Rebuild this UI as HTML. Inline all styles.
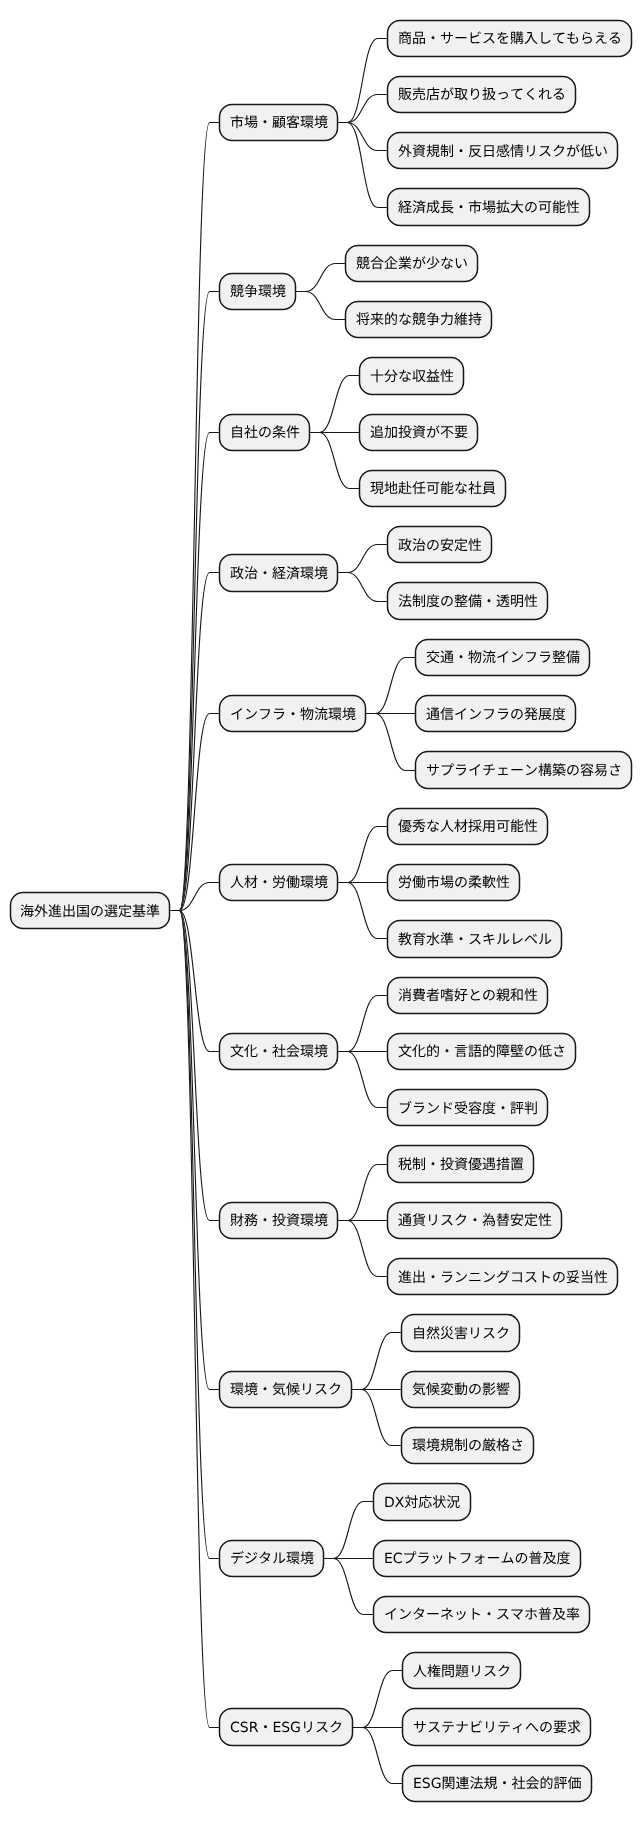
<!DOCTYPE html>
<html lang="ja"><head><meta charset="utf-8"><title>海外進出国の選定基準</title>
<style>
html,body{margin:0;padding:0;background:#fff;overflow:hidden;}
svg{display:block;will-change:transform;}
svg text{font-family:"DejaVu Sans", "Liberation Sans", "Noto Sans CJK JP", sans-serif;font-size:14px;fill:#000;font-kerning:none;font-feature-settings:"kern" 0,"palt" 0;white-space:pre;text-rendering:geometricPrecision;}
</style></head><body>
<svg width="642" height="1822" viewBox="0 0 642 1822">
<rect x="0" y="0" width="642" height="1822" fill="#fff"/>
<g fill="none" stroke="#181818" stroke-width="1.12">
<path d="M169.5,910.5 L179.5,910.5 C194.50,910.50 194.50,122.50 209.5,122.5 L219.5,122.5"/>
<path d="M337.5,122.5 L347.5,122.5 C362.50,122.50 362.50,38.50 377.5,38.5 L387.5,38.5"/>
<path d="M337.5,122.5 L347.5,122.5 C362.50,122.50 362.50,94.50 377.5,94.5 L387.5,94.5"/>
<path d="M337.5,122.5 L347.5,122.5 C362.50,122.50 362.50,150.50 377.5,150.5 L387.5,150.5"/>
<path d="M337.5,122.5 L347.5,122.5 C362.50,122.50 362.50,207.50 377.5,207.5 L387.5,207.5"/>
<path d="M169.5,910.5 L179.5,910.5 C194.50,910.50 194.50,291.50 209.5,291.5 L219.5,291.5"/>
<path d="M295.5,291.5 L305.5,291.5 C320.50,291.50 320.50,263.50 335.5,263.5 L345.5,263.5"/>
<path d="M295.5,291.5 L305.5,291.5 C320.50,291.50 320.50,319.50 335.5,319.5 L345.5,319.5"/>
<path d="M169.5,910.5 L179.5,910.5 C194.50,910.50 194.50,432.50 209.5,432.5 L219.5,432.5"/>
<path d="M309.5,432.5 L319.5,432.5 C334.50,432.50 334.50,375.50 349.5,375.5 L359.5,375.5"/>
<path d="M309.5,432.5 L319.5,432.5 C334.50,432.50 334.50,432.50 349.5,432.5 L359.5,432.5"/>
<path d="M309.5,432.5 L319.5,432.5 C334.50,432.50 334.50,488.50 349.5,488.5 L359.5,488.5"/>
<path d="M169.5,910.5 L179.5,910.5 C194.50,910.50 194.50,572.50 209.5,572.5 L219.5,572.5"/>
<path d="M337.5,572.5 L347.5,572.5 C362.50,572.50 362.50,544.50 377.5,544.5 L387.5,544.5"/>
<path d="M337.5,572.5 L347.5,572.5 C362.50,572.50 362.50,601.50 377.5,601.5 L387.5,601.5"/>
<path d="M169.5,910.5 L179.5,910.5 C194.50,910.50 194.50,713.50 209.5,713.5 L219.5,713.5"/>
<path d="M365.5,713.5 L375.5,713.5 C390.50,713.50 390.50,657.50 405.5,657.5 L415.5,657.5"/>
<path d="M365.5,713.5 L375.5,713.5 C390.50,713.50 390.50,713.50 405.5,713.5 L415.5,713.5"/>
<path d="M365.5,713.5 L375.5,713.5 C390.50,713.50 390.50,770.50 405.5,770.5 L415.5,770.5"/>
<path d="M169.5,910.5 L179.5,910.5 C194.50,910.50 194.50,882.50 209.5,882.5 L219.5,882.5"/>
<path d="M337.5,882.5 L347.5,882.5 C362.50,882.50 362.50,826.50 377.5,826.5 L387.5,826.5"/>
<path d="M337.5,882.5 L347.5,882.5 C362.50,882.50 362.50,882.50 377.5,882.5 L387.5,882.5"/>
<path d="M337.5,882.5 L347.5,882.5 C362.50,882.50 362.50,938.50 377.5,938.5 L387.5,938.5"/>
<path d="M169.5,910.5 L179.5,910.5 C194.50,910.50 194.50,1051.50 209.5,1051.5 L219.5,1051.5"/>
<path d="M337.5,1051.5 L347.5,1051.5 C362.50,1051.50 362.50,995.50 377.5,995.5 L387.5,995.5"/>
<path d="M337.5,1051.5 L347.5,1051.5 C362.50,1051.50 362.50,1051.50 377.5,1051.5 L387.5,1051.5"/>
<path d="M337.5,1051.5 L347.5,1051.5 C362.50,1051.50 362.50,1107.50 377.5,1107.5 L387.5,1107.5"/>
<path d="M169.5,910.5 L179.5,910.5 C194.50,910.50 194.50,1220.50 209.5,1220.5 L219.5,1220.5"/>
<path d="M337.5,1220.5 L347.5,1220.5 C362.50,1220.50 362.50,1164.50 377.5,1164.5 L387.5,1164.5"/>
<path d="M337.5,1220.5 L347.5,1220.5 C362.50,1220.50 362.50,1220.50 377.5,1220.5 L387.5,1220.5"/>
<path d="M337.5,1220.5 L347.5,1220.5 C362.50,1220.50 362.50,1276.50 377.5,1276.5 L387.5,1276.5"/>
<path d="M169.5,910.5 L179.5,910.5 C194.50,910.50 194.50,1389.50 209.5,1389.5 L219.5,1389.5"/>
<path d="M351.5,1389.5 L361.5,1389.5 C376.50,1389.50 376.50,1332.50 391.5,1332.5 L401.5,1332.5"/>
<path d="M351.5,1389.5 L361.5,1389.5 C376.50,1389.50 376.50,1389.50 391.5,1389.5 L401.5,1389.5"/>
<path d="M351.5,1389.5 L361.5,1389.5 C376.50,1389.50 376.50,1445.50 391.5,1445.5 L401.5,1445.5"/>
<path d="M169.5,910.5 L179.5,910.5 C194.50,910.50 194.50,1558.50 209.5,1558.5 L219.5,1558.5"/>
<path d="M323.5,1558.5 L333.5,1558.5 C348.50,1558.50 348.50,1501.50 363.5,1501.5 L373.5,1501.5"/>
<path d="M323.5,1558.5 L333.5,1558.5 C348.50,1558.50 348.50,1558.50 363.5,1558.5 L373.5,1558.5"/>
<path d="M323.5,1558.5 L333.5,1558.5 C348.50,1558.50 348.50,1614.50 363.5,1614.5 L373.5,1614.5"/>
<path d="M169.5,910.5 L179.5,910.5 C194.50,910.50 194.50,1727.50 209.5,1727.5 L219.5,1727.5"/>
<path d="M352.5,1727.5 L362.5,1727.5 C377.50,1727.50 377.50,1670.50 392.5,1670.5 L402.5,1670.5"/>
<path d="M352.5,1727.5 L362.5,1727.5 C377.50,1727.50 377.50,1727.50 392.5,1727.5 L402.5,1727.5"/>
<path d="M352.5,1727.5 L362.5,1727.5 C377.50,1727.50 377.50,1783.50 392.5,1783.5 L402.5,1783.5"/>
</g>
<g fill="#F1F1F1" stroke="#181818" stroke-width="1.5">
<rect x="10.5" y="892.5" width="159" height="36" rx="12.5"/>
<rect x="219.5" y="104.5" width="118" height="36" rx="12.5"/>
<rect x="387.5" y="20.5" width="244" height="36" rx="12.5"/>
<rect x="387.5" y="76.5" width="188" height="36" rx="12.5"/>
<rect x="387.5" y="132.5" width="230" height="36" rx="12.5"/>
<rect x="387.5" y="188.5" width="202" height="37" rx="12.5"/>
<rect x="219.5" y="273.5" width="76" height="36" rx="12.5"/>
<rect x="345.5" y="245.5" width="132" height="36" rx="12.5"/>
<rect x="345.5" y="301.5" width="146" height="36" rx="12.5"/>
<rect x="219.5" y="414.5" width="90" height="36" rx="12.5"/>
<rect x="359.5" y="357.5" width="104" height="37" rx="12.5"/>
<rect x="359.5" y="414.5" width="118" height="36" rx="12.5"/>
<rect x="359.5" y="470.5" width="146" height="36" rx="12.5"/>
<rect x="219.5" y="554.5" width="118" height="37" rx="12.5"/>
<rect x="387.5" y="526.5" width="104" height="36" rx="12.5"/>
<rect x="387.5" y="582.5" width="160" height="37" rx="12.5"/>
<rect x="219.5" y="695.5" width="146" height="36" rx="12.5"/>
<rect x="415.5" y="639.5" width="174" height="36" rx="12.5"/>
<rect x="415.5" y="695.5" width="160" height="36" rx="12.5"/>
<rect x="415.5" y="751.5" width="216" height="37" rx="12.5"/>
<rect x="219.5" y="864.5" width="118" height="36" rx="12.5"/>
<rect x="387.5" y="808.5" width="160" height="36" rx="12.5"/>
<rect x="387.5" y="864.5" width="132" height="36" rx="12.5"/>
<rect x="387.5" y="920.5" width="174" height="37" rx="12.5"/>
<rect x="219.5" y="1033.5" width="118" height="36" rx="12.5"/>
<rect x="387.5" y="977.5" width="160" height="36" rx="12.5"/>
<rect x="387.5" y="1033.5" width="188" height="36" rx="12.5"/>
<rect x="387.5" y="1089.5" width="160" height="36" rx="12.5"/>
<rect x="219.5" y="1202.5" width="118" height="36" rx="12.5"/>
<rect x="387.5" y="1145.5" width="146" height="37" rx="12.5"/>
<rect x="387.5" y="1202.5" width="174" height="36" rx="12.5"/>
<rect x="387.5" y="1258.5" width="230" height="36" rx="12.5"/>
<rect x="219.5" y="1371.5" width="132" height="36" rx="12.5"/>
<rect x="401.5" y="1314.5" width="118" height="37" rx="12.5"/>
<rect x="401.5" y="1371.5" width="118" height="36" rx="12.5"/>
<rect x="401.5" y="1427.5" width="132" height="36" rx="12.5"/>
<rect x="219.5" y="1540.5" width="104" height="36" rx="12.5"/>
<rect x="373.5" y="1483.5" width="97" height="37" rx="12.5"/>
<rect x="373.5" y="1540.5" width="207" height="36" rx="12.5"/>
<rect x="373.5" y="1596.5" width="216" height="36" rx="12.5"/>
<rect x="219.5" y="1708.5" width="133" height="37" rx="12.5"/>
<rect x="402.5" y="1652.5" width="118" height="36" rx="12.5"/>
<rect x="402.5" y="1708.5" width="188" height="37" rx="12.5"/>
<rect x="402.5" y="1765.5" width="189" height="36" rx="12.5"/>
</g>
<g>
<text x="20.00" y="915.60">海外進出国の選定基準</text>
<text x="230.00" y="127.44">市場・顧客環境</text>
<text x="398.00" y="43.00">商品・サービスを購入してもらえる</text>
<text x="398.00" y="99.29">販売店が取り扱ってくれる</text>
<text x="398.00" y="155.59">外資規制・反日感情リスクが低い</text>
<text x="398.00" y="211.89">経済成長・市場拡大の可能性</text>
<text x="230.00" y="296.33">競争環境</text>
<text x="356.00" y="268.18">競合企業が少ない</text>
<text x="356.00" y="324.48">将来的な競争力維持</text>
<text x="230.00" y="437.07">自社の条件</text>
<text x="370.00" y="380.78">十分な収益性</text>
<text x="370.00" y="437.07">追加投資が不要</text>
<text x="370.00" y="493.37">現地赴任可能な社員</text>
<text x="230.00" y="577.82">政治・経済環境</text>
<text x="398.00" y="549.67">政治の安定性</text>
<text x="398.00" y="605.96">法制度の整備・透明性</text>
<text x="230.00" y="718.56">インフラ・物流環境</text>
<text x="426.00" y="662.26">交通・物流インフラ整備</text>
<text x="426.00" y="718.56">通信インフラの発展度</text>
<text x="426.00" y="774.85">サプライチェーン構築の容易さ</text>
<text x="230.00" y="887.45">人材・労働環境</text>
<text x="398.00" y="831.15">優秀な人材採用可能性</text>
<text x="398.00" y="887.45">労働市場の柔軟性</text>
<text x="398.00" y="943.75">教育水準・スキルレベル</text>
<text x="230.00" y="1056.34">文化・社会環境</text>
<text x="398.00" y="1000.04">消費者嗜好との親和性</text>
<text x="398.00" y="1056.34">文化的・言語的障壁の低さ</text>
<text x="398.00" y="1112.64">ブランド受容度・評判</text>
<text x="230.00" y="1225.23">財務・投資環境</text>
<text x="398.00" y="1168.93">税制・投資優遇措置</text>
<text x="398.00" y="1225.23">通貨リスク・為替安定性</text>
<text x="398.00" y="1281.53">進出・ランニングコストの妥当性</text>
<text x="230.00" y="1394.12">環境・気候リスク</text>
<text x="412.00" y="1337.82">自然災害リスク</text>
<text x="412.00" y="1394.12">気候変動の影響</text>
<text x="412.00" y="1450.42">環境規制の厳格さ</text>
<text x="230.00" y="1563.01">デジタル環境</text>
<text x="384.00" y="1506.71">DX対応状況</text>
<text x="384.00" y="1563.01">ECプラットフォームの普及度</text>
<text x="384.00" y="1619.31">インターネット・スマホ普及率</text>
<text x="230.00" y="1731.90">CSR・ESGリスク</text>
<text x="413.00" y="1675.60">人権問題リスク</text>
<text x="413.00" y="1731.90">サステナビリティへの要求</text>
<text x="413.00" y="1788.20">ESG関連法規・社会的評価</text>
</g>
</svg>
</body></html>
